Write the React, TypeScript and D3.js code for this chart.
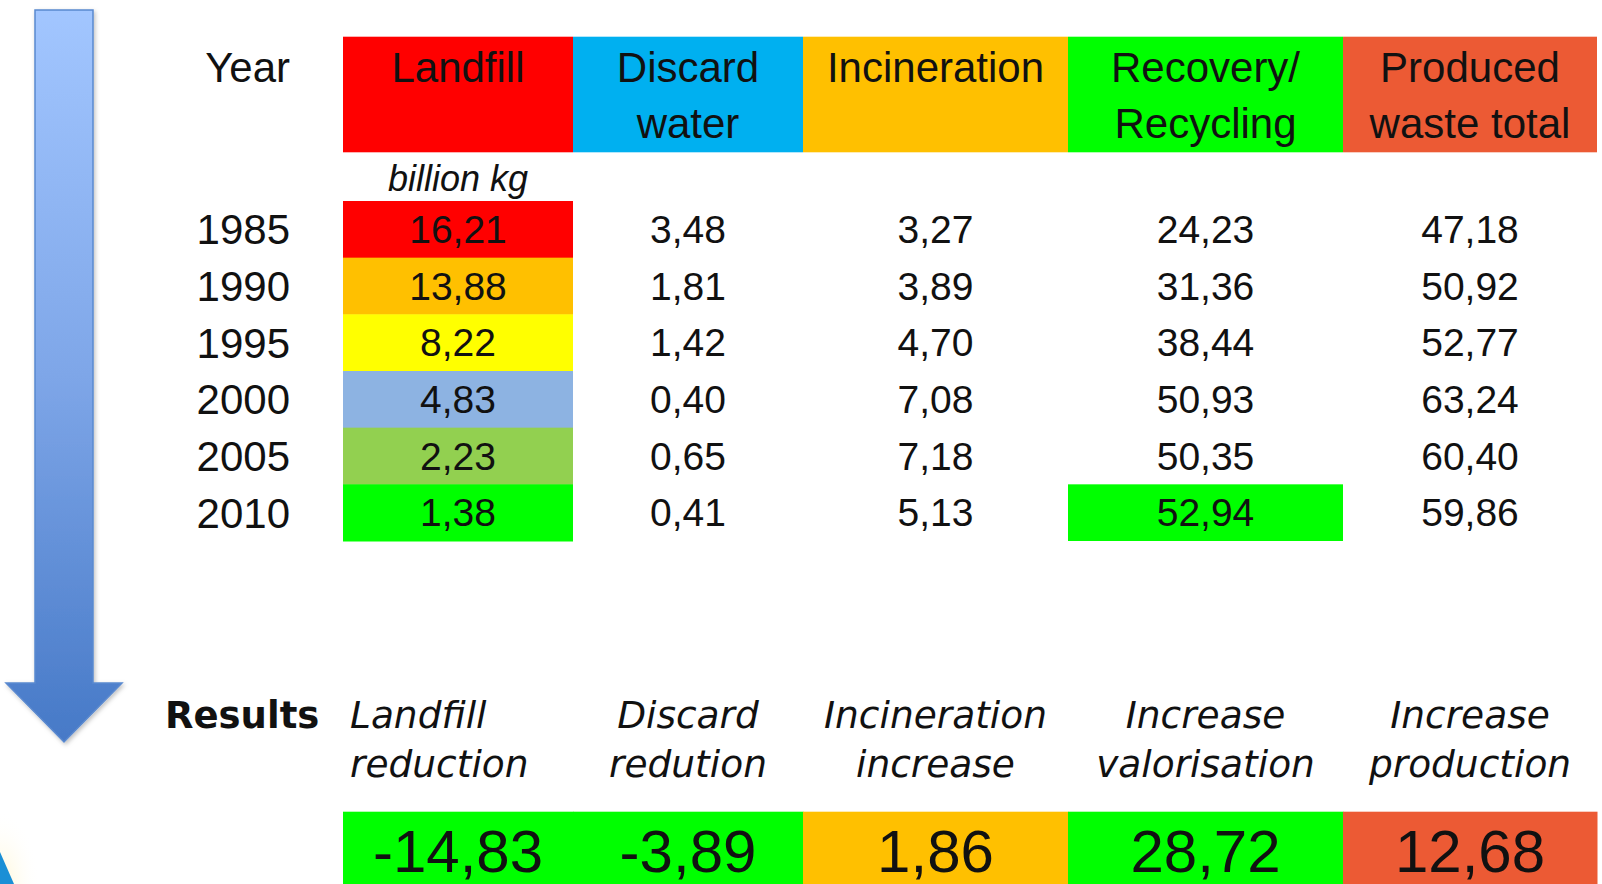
import React from "react";
import * as d3 from "d3";

// table data (billion kg)
const years = ["1985", "1990", "1995", "2000", "2005", "2010"];
const landfill = [16.21, 13.88, 8.22, 4.83, 2.23, 1.38];
const discardWater = [3.48, 1.81, 1.42, 0.4, 0.65, 0.41];
const incineration = [3.27, 3.89, 4.7, 7.08, 7.18, 5.13];
const recovery = [24.23, 31.36, 38.44, 50.93, 50.35, 52.94];
const producedTotal = [47.18, 50.92, 52.77, 63.24, 60.4, 59.86];

const columns = ["landfill", "discard", "incineration", "recovery", "produced"];
const headerLines = [
  ["Landfill"],
  ["Discard", "water"],
  ["Incineration"],
  ["Recovery/", "Recycling"],
  ["Produced", "waste total"],
];
const resultLabels = [
  ["Landfill", "reduction"],
  ["Discard", "redution"],
  ["Incineration", "increase"],
  ["Increase", "valorisation"],
  ["Increase", "production"],
];
const results = [-14.83, -3.89, 1.86, 28.72, 12.68];

const series = [landfill, discardWater, incineration, recovery, producedTotal];

// colours
const headerColors = ["#FF0000", "#00B0F0", "#FFC000", "#00FF00", "#EC5A34"];
const landfillColors = ["#FF0000", "#FFC000", "#FFFF00", "#8DB3E2", "#92D050", "#00FF00"];
const resultColors = ["#00FF00", "#00FF00", "#FFC000", "#00FF00", "#EC5A34"];

const locale = d3.formatLocale({
  decimal: ",",
  thousands: ".",
  grouping: [3],
  currency: ["", ""],
  minus: "-",
});
const fmt = locale.format(".2f");

const W = 1602;
const H = 884;

// column edges (layout)
const colEdges = [343, 573, 803, 1068, 1343, 1597];
const xLeft = d3.scaleOrdinal<string, number>().domain(columns).range(colEdges.slice(0, 5));
const xRight = d3.scaleOrdinal<string, number>().domain(columns).range(colEdges.slice(1));
const xMid = (c: string) => (xLeft(c) + xRight(c)) / 2;

const rowY = d3.scaleBand<string>().domain(years).range([201, 541]).padding(0);

const arial = "'Liberation Sans', Arial, sans-serif";
const verdana = "'DejaVu Sans', Verdana, sans-serif";

export default function App() {
  const headerTop = 36.7;
  const headerBottom = 152.3;
  const resultTop = 811.7;
  const bw = rowY.bandwidth();

  return (
    <div style={{ position: "fixed", left: 0, top: 0 }}>
      <svg width={W} height={H} style={{ display: "block", background: "#fff" }}>
        <defs>
          <linearGradient id="arrowGrad" x1="0" y1="0" x2="0" y2="1">
            <stop offset="0" stopColor="#A2C6FF" />
            <stop offset="0.5" stopColor="#7EA6E8" />
            <stop offset="1" stopColor="#4679C7" />
          </linearGradient>
          <filter id="shadow" x="-20%" y="-5%" width="150%" height="110%">
            <feDropShadow dx="1.5" dy="2" stdDeviation="2" floodColor="#000" floodOpacity="0.25" />
          </filter>
          <radialGradient id="glow" cx="0" cy="1" r="1">
            <stop offset="0" stopColor="#FFF6D0" stopOpacity="0.9" />
            <stop offset="1" stopColor="#FFFFFF" stopOpacity="0" />
          </radialGradient>
        </defs>

        {/* Down arrow */}
        <path
          d="M35,10 H93 V683 H122 L64,742 L6,683 H35 Z"
          fill="url(#arrowGrad)"
          stroke="#5A89CF"
          strokeWidth={1.5}
          filter="url(#shadow)"
        />

        {/* corner decoration */}
        <rect x={0} y={810} width={40} height={74} fill="url(#glow)" />
        <path d="M0,852 L14,884 L0,884 Z" fill="#1A8FD6" />

        {/* Header */}
        <text x={290} y={82.3} textAnchor="end" fontFamily={arial} fontSize={42} fill="#111">
          Year
        </text>
        {columns.map((c, i) => (
          <g key={`h-${c}`}>
            <rect
              x={xLeft(c)}
              y={headerTop}
              width={xRight(c) - xLeft(c)}
              height={headerBottom - headerTop}
              fill={headerColors[i]}
            />
            {headerLines[i].map((line, j) => (
              <text
                key={j}
                x={xMid(c)}
                y={82.3 + j * 56}
                textAnchor="middle"
                fontFamily={arial}
                fontSize={42}
                fill="#111"
              >
                {line}
              </text>
            ))}
          </g>
        ))}

        <text
          x={xMid("landfill")}
          y={190.7}
          textAnchor="middle"
          fontFamily={arial}
          fontStyle="italic"
          fontSize={36}
          fill="#111"
        >
          billion kg
        </text>

        {/* Rows */}
        {years.map((yr, r) => {
          const y0 = rowY(yr) as number;
          const cy = y0 + bw / 2;
          return (
            <g key={`row-${yr}`}>
              <rect
                x={xLeft("landfill")}
                y={y0}
                width={xRight("landfill") - xLeft("landfill")}
                height={bw + 0.5}
                fill={landfillColors[r]}
              />
              {r === years.length - 1 && (
                <rect
                  x={xLeft("recovery")}
                  y={y0}
                  width={xRight("recovery") - xLeft("recovery")}
                  height={bw}
                  fill="#00FF00"
                />
              )}
              <text x={290} y={cy + 15} textAnchor="end" fontFamily={arial} fontSize={42} fill="#111">
                {yr}
              </text>
              {columns.map((c, i) => (
                <text
                  key={c}
                  x={xMid(c)}
                  y={cy + 13.5}
                  textAnchor="middle"
                  fontFamily={arial}
                  fontSize={39}
                  fill="#111"
                >
                  {fmt(series[i][r])}
                </text>
              ))}
            </g>
          );
        })}

        {/* Results */}
        <text x={165} y={728.3} fontFamily={verdana} fontWeight="bold" fontSize={37} fill="#111">
          Results
        </text>
        {columns.map((c, i) => (
          <g key={`res-${c}`}>
            {resultLabels[i].map((line, j) => (
              <text
                key={j}
                x={i === 0 ? 350 : xMid(c)}
                y={728.3 + j * 48.5}
                textAnchor={i === 0 ? "start" : "middle"}
                fontFamily={verdana}
                fontStyle="italic"
                fontSize={37.5}
                fill="#111"
              >
                {line}
              </text>
            ))}
            <rect
              x={xLeft(c)}
              y={resultTop}
              width={xRight(c) - xLeft(c) + 0.5}
              height={H - resultTop}
              fill={resultColors[i]}
            />
            <text
              x={xMid(c)}
              y={872}
              textAnchor="middle"
              fontFamily={arial}
              fontSize={60}
              fill="#111"
            >
              {fmt(results[i])}
            </text>
          </g>
        ))}
      </svg>
    </div>
  );
}
